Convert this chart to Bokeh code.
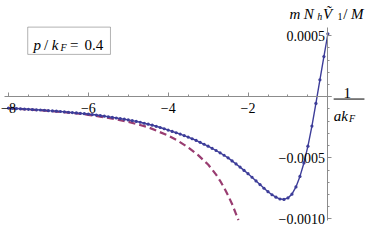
from bokeh.plotting import figure
from bokeh.models import Range1d, FixedTicker, Label, BoxAnnotation, Arrow
from bokeh.embed import file_html
from bokeh.resources import INLINE
import numpy as np

# ---- data ----
x_full = [-8.0, -7.9, -7.8, -7.7, -7.6, -7.5, -7.4, -7.3, -7.2, -7.1,
          -7.0, -6.9, -6.8, -6.7, -6.6, -6.5, -6.4, -6.3, -6.2, -6.1,
          -6.0, -5.9, -5.8, -5.7, -5.6, -5.5, -5.4, -5.3, -5.2, -5.1,
          -5.0, -4.9, -4.8, -4.7, -4.6, -4.5, -4.4, -4.3, -4.2, -4.1,
          -4.0, -3.9, -3.8, -3.7, -3.6, -3.5, -3.4, -3.3, -3.2, -3.1,
          -3.0, -2.9, -2.8, -2.7, -2.6, -2.5, -2.4, -2.3, -2.2, -2.1,
          -2.0, -1.9, -1.8, -1.7, -1.6, -1.5, -1.4, -1.3, -1.2, -1.1,
          -1.0, -0.9, -0.8, -0.7, -0.6, -0.5, -0.4, -0.3, -0.2, -0.1, 0.0]
v_full = [-0.000093, -0.000095, -0.000097, -0.000099, -0.000101, -0.000103, -0.000105, -0.000107, -0.000109, -0.000111,
          -0.000114, -0.000116, -0.000118, -0.000121, -0.000124, -0.000127, -0.000130, -0.000133, -0.000136, -0.000139,
          -0.000142, -0.000146, -0.000150, -0.000154, -0.000159, -0.000164, -0.000169, -0.000174, -0.000179, -0.000184,
          -0.000190, -0.000196, -0.000202, -0.000209, -0.000217, -0.000225, -0.000233, -0.000242, -0.000252, -0.000262,
          -0.000273, -0.000284, -0.000295, -0.000306, -0.000318, -0.000330, -0.000344, -0.000358, -0.000373, -0.000389,
          -0.000405, -0.000422, -0.000440, -0.000459, -0.000479, -0.000500, -0.000525, -0.000550, -0.000576, -0.000603,
          -0.000630, -0.000659, -0.000689, -0.000719, -0.000749, -0.000777, -0.000802, -0.000822, -0.000837, -0.000840,
          -0.000828, -0.000797, -0.000738, -0.000652, -0.000542, -0.000405, -0.000240, -0.000055, 0.000138, 0.000328, 0.000515]

x_approx = [-8.0, -7.5, -7.0, -6.5, -6.0, -5.5, -5.0, -4.5, -4.0, -3.75, -3.5, -3.25,
            -3.0, -2.9, -2.8, -2.7, -2.6, -2.5, -2.4, -2.3, -2.24]
v_approx = [-0.000093, -0.000104, -0.000116, -0.000130, -0.000148, -0.000174, -0.000205, -0.000250,
            -0.000318, -0.000362, -0.000415, -0.000478, -0.000555, -0.000595, -0.000638, -0.000688,
            -0.000745, -0.000808, -0.000878, -0.000960, -0.001010]

x_ticks = [-8, -6, -4, -2, 0]
x_tick_labels = ["\u22128", "\u22126", "\u22124", "\u22122", ""]
y_ticks = [-0.001, -0.0005, 0.0, 0.0005]
y_tick_labels = ["\u22120.0010", "\u22120.0005", "", "0.0005"]

BLUE = "#3d3d99"
PURPLE = "#993d71"
AXIS = "#8c8c8c"
SERIF = "Liberation Serif"

p = figure(width=366, height=227,
           x_range=Range1d(-8.2, 0.967), y_range=Range1d(-0.00107, 0.000787),
           output_backend="svg", toolbar_location=None, min_border=0,
           outline_line_color=None)
p.grid.visible = False
p.background_fill_color = "white"
p.border_fill_color = "white"

# reference-pixel helpers for annotation placement
def px2x(px):
    return (px - 339.0) / 41.5

def py2y(py):
    return (106.0 - py) / 130000.0

# curves
p.line(x_approx, v_approx, line_color=PURPLE, line_width=2.2, line_dash="7 4")
p.line(x_full, v_full, line_color=BLUE, line_width=1.4)
p.scatter(x_full, v_full, size=3.2, fill_color=BLUE, line_color=None)

# axes crossing at origin
xa = p.xaxis[0]
xa.fixed_location = 0
xa.bounds = (-8.1, 0.1)
xa.ticker = FixedTicker(ticks=x_ticks, minor_ticks=list(np.arange(-8.0, 0.01, 0.5)))
xa.major_label_overrides = dict(zip(x_ticks, x_tick_labels))
ya = p.yaxis[0]
ya.fixed_location = 0
ya.bounds = (-0.00101, 0.00057)
ya.ticker = FixedTicker(ticks=y_ticks, minor_ticks=list(np.arange(-0.001, 0.00056, 0.0001)))
ya.major_label_overrides = dict(zip(y_ticks, y_tick_labels))

for ax in (xa, ya):
    ax.axis_line_color = AXIS
    ax.major_tick_line_color = AXIS
    ax.minor_tick_line_color = AXIS
    ax.major_tick_out = 0
    ax.major_tick_in = 4
    ax.minor_tick_out = 0
    ax.minor_tick_in = 2
    ax.major_label_text_font = SERIF
    ax.major_label_text_font_size = "14px"
    ax.major_label_text_color = "black"
xa.major_label_standoff = 6
xa.major_label_text_baseline = "top"
ya.major_label_standoff = 3

def lab(px, py, text, size="15px", style="italic", align="left"):
    p.add_layout(Label(x=px2x(px), y=py2y(py), text=text, text_font=SERIF,
                       text_font_size=size, text_font_style=style,
                       text_align=align, text_baseline="alphabetic",
                       text_color="black"))

# parameter box
p.add_layout(BoxAnnotation(left=px2x(27), right=px2x(113), top=py2y(32), bottom=py2y(61),
                           fill_color="white", fill_alpha=1.0,
                           line_color="black", line_width=1, level="annotation"))
lab(33, 51, "p")
lab(44, 51, "/", style="normal")
lab(52, 51, "k")
lab(61, 54, "F", size="10px")
lab(71, 51, "=", style="normal")
lab(86, 51, "0.4", style="normal")

# y axis label
lab(299, 18, "m")
lab(314, 18, "N")
lab(328, 21, "h", size="10px")
lab(334, 18, "\u1e7c")
lab(349, 21, "1", size="10px", style="normal")
lab(355, 18, "/", style="normal")
lab(363, 18, "M")

# x axis label: 1 / (a k_F)
lab(359, 102, "1", style="normal", align="center")
p.add_layout(Arrow(end=None, x_start=px2x(345), y_start=py2y(108.5),
                   x_end=px2x(377), y_end=py2y(108.5), line_color="black", line_width=1))
lab(345, 126, "a")
lab(353, 126, "k")
lab(361, 129, "F", size="10px")

open("out.html", "w").write(file_html(p, INLINE))
